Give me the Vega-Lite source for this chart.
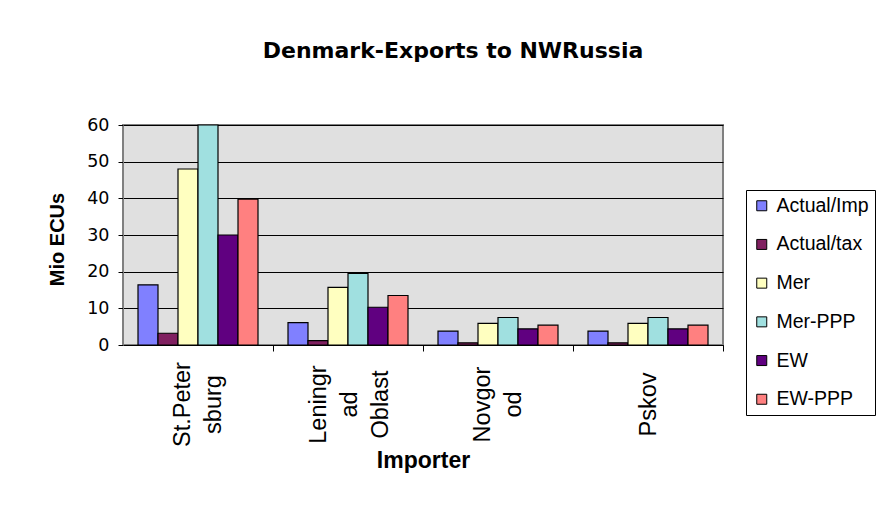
{
  "$schema": "https://vega.github.io/schema/vega-lite/v6.json",
  "width": 600,
  "height": 220,
  "autosize": {"type": "none"},
  "padding": {"left": 123, "top": 125, "right": 161, "bottom": 161},
  "background": "white",
  "title": {
    "text": "Denmark-Exports to NWRussia",
    "font": "DejaVu Sans",
    "fontSize": 22,
    "fontWeight": "bold",
    "color": "black",
    "anchor": "middle",
    "frame": "group",
    "dx": 30,
    "offset": 36,
    "baseline": "alphabetic"
  },
  "data": {
    "values": [
      {"importer": "St.Petersburg", "series": "Actual/Imp", "value": 16.4},
      {"importer": "St.Petersburg", "series": "Actual/tax", "value": 3.2},
      {"importer": "St.Petersburg", "series": "Mer", "value": 48},
      {"importer": "St.Petersburg", "series": "Mer-PPP", "value": 60},
      {"importer": "St.Petersburg", "series": "EW", "value": 30},
      {"importer": "St.Petersburg", "series": "EW-PPP", "value": 39.8},
      {"importer": "Leningrad Oblast", "series": "Actual/Imp", "value": 6.1},
      {"importer": "Leningrad Oblast", "series": "Actual/tax", "value": 1.2},
      {"importer": "Leningrad Oblast", "series": "Mer", "value": 15.7},
      {"importer": "Leningrad Oblast", "series": "Mer-PPP", "value": 19.5},
      {"importer": "Leningrad Oblast", "series": "EW", "value": 10.3},
      {"importer": "Leningrad Oblast", "series": "EW-PPP", "value": 13.5},
      {"importer": "Novgorod", "series": "Actual/Imp", "value": 3.8},
      {"importer": "Novgorod", "series": "Actual/tax", "value": 0.6},
      {"importer": "Novgorod", "series": "Mer", "value": 5.9},
      {"importer": "Novgorod", "series": "Mer-PPP", "value": 7.5},
      {"importer": "Novgorod", "series": "EW", "value": 4.4},
      {"importer": "Novgorod", "series": "EW-PPP", "value": 5.4},
      {"importer": "Pskov", "series": "Actual/Imp", "value": 3.8},
      {"importer": "Pskov", "series": "Actual/tax", "value": 0.6},
      {"importer": "Pskov", "series": "Mer", "value": 5.9},
      {"importer": "Pskov", "series": "Mer-PPP", "value": 7.5},
      {"importer": "Pskov", "series": "EW", "value": 4.4},
      {"importer": "Pskov", "series": "EW-PPP", "value": 5.4}
    ]
  },
  "mark": {"type": "bar", "stroke": "black", "strokeWidth": 1.2},
  "encoding": {
    "x": {
      "field": "importer",
      "type": "nominal",
      "sort": ["St.Petersburg", "Leningrad Oblast", "Novgorod", "Pskov"],
      "scale": {"paddingInner": 0.2, "paddingOuter": 0.1},
      "axis": {
        "title": "Importer",
        "titleFont": "Liberation Sans",
        "titleFontSize": 23,
        "titleFontWeight": "bold",
        "titleColor": "black",
        "titleX": 300,
        "titleY": 122,
        "titleAlign": "center",
        "titleBaseline": "alphabetic",
        "labelAngle": 270,
        "labelAlign": "center",
        "labelBaseline": "middle",
        "labelFont": "Liberation Sans",
        "labelFontSize": 23.5,
        "labelColor": "black",
        "labelPadding": 53,
        "labelLineHeight": 31,
        "labelOverlap": false,
        "tickOffset": 75,
        "labelOffset": {
          "condition": [
            {"test": "datum.value == 'Leningrad Oblast'", "value": -105},
            {"test": "datum.value == 'Pskov'", "value": -75}
          ],
          "value": -91
        },
        "labelExpr": "datum.value == 'St.Petersburg' ? ['St.Peter','sburg'] : datum.value == 'Leningrad Oblast' ? ['Leningr','ad','Oblast'] : datum.value == 'Novgorod' ? ['Novgor','od'] : datum.label",
        "tickSize": 6,
        "tickColor": "black",
        "domainColor": "black",
        "grid": false
      }
    },
    "xOffset": {
      "field": "series",
      "type": "nominal",
      "sort": ["Actual/Imp", "Actual/tax", "Mer", "Mer-PPP", "EW", "EW-PPP"],
      "scale": {"paddingInner": 0, "paddingOuter": 0}
    },
    "y": {
      "field": "value",
      "type": "quantitative",
      "scale": {"domain": [0, 60], "nice": false},
      "axis": {
        "title": "Mio ECUs",
        "titleFont": "Liberation Sans",
        "titleFontSize": 20,
        "titleFontWeight": "bold",
        "titleColor": "black",
        "titleAngle": 270,
        "titleX": -66,
        "titleY": 114,
        "titleAlign": "center",
        "titleBaseline": "middle",
        "values": [0, 10, 20, 30, 40, 50, 60],
        "labelFont": "DejaVu Sans",
        "labelFontSize": 17.5,
        "labelColor": "black",
        "labelPadding": 9,
        "tickSize": 5,
        "tickColor": "black",
        "domainColor": "#808080",
        "gridColor": "black",
        "gridOpacity": 1,
        "gridWidth": 1
      }
    },
    "color": {
      "field": "series",
      "type": "nominal",
      "scale": {
        "domain": ["Actual/Imp", "Actual/tax", "Mer", "Mer-PPP", "EW", "EW-PPP"],
        "range": ["#8080ff", "#802060", "#ffffc0", "#a0e0e0", "#600080", "#ff8080"]
      },
      "legend": {
        "title": null,
        "orient": "none",
        "legendX": 623,
        "legendY": 65,
        "strokeColor": "black",
        "fillColor": "white",
        "padding": 6,
        "symbolType": "square",
        "symbolSize": 100,
        "symbolStrokeColor": "black",
        "symbolStrokeWidth": 1,
        "symbolOpacity": 1,
        "labelFont": "Liberation Sans",
        "labelFontSize": 19.5,
        "labelColor": "black",
        "labelOffset": 5,
        "rowPadding": 17.7
      }
    }
  },
  "config": {
    "view": {"fill": "#e0e0e0", "stroke": "#808080", "strokeWidth": 2}
  }
}
